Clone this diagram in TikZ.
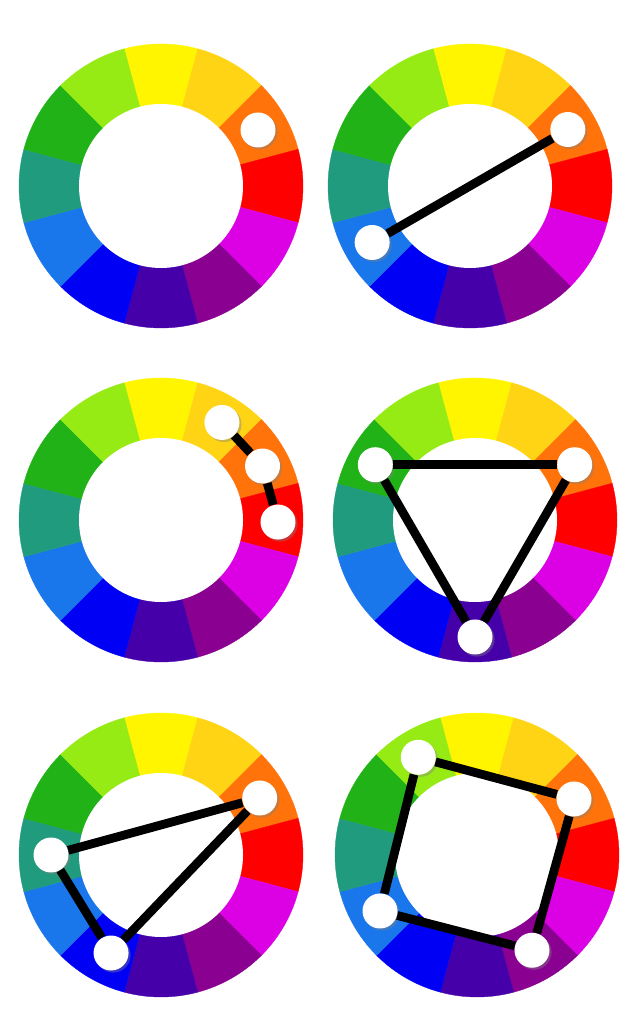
\documentclass[tikz,border=0pt]{standalone}
\usepackage{tikz}
\usetikzlibrary{shadows}

\definecolor{cwYellow}{RGB}{255,245,0}
\definecolor{cwGold}{RGB}{255,212,20}
\definecolor{cwOrange}{RGB}{255,115,10}
\definecolor{cwRed}{RGB}{255,0,0}
\definecolor{cwMagenta}{RGB}{220,0,228}
\definecolor{cwPurple}{RGB}{138,0,145}
\definecolor{cwViolet}{RGB}{70,0,170}
\definecolor{cwBlue}{RGB}{0,0,245}
\definecolor{cwSky}{RGB}{25,118,235}
\definecolor{cwTeal}{RGB}{32,155,125}
\definecolor{cwGreen}{RGB}{32,178,22}
\definecolor{cwLime}{RGB}{150,235,20}

% one ring of twelve hues round a centre
\newcommand{\colorwheel}[1]{%
  \foreach \col [count=\i from 0] in {cwYellow,cwGold,cwOrange,cwRed,cwMagenta,cwPurple,cwViolet,cwBlue,cwSky,cwTeal,cwGreen,cwLime}
    \fill[\col,draw=\col,line width=0.2pt] (#1) -- ++({75-30*\i}:142)
      arc[start angle={75-30*\i},delta angle=30,radius=142] -- cycle;
  \fill[white] (#1) circle[radius=82];
}

\begin{document}
\begin{tikzpicture}[x=0.02cm,y=0.02cm,
    dot/.style={circle,fill=white,inner sep=0pt,minimum size=0.70cm,
      drop shadow={shadow xshift=1.2pt,shadow yshift=-1.2pt,opacity=0.4}},
    link/.style={every edge/.append style={line width=5pt,black}}]

  \useasboundingbox (0,0) rectangle (640,1017);

  \coordinate (c1) at (161,831);
  \coordinate (c2) at (470,831);
  \coordinate (c3) at (161,497);
  \coordinate (c4) at (475,497);
  \coordinate (c5) at (161,162);
  \coordinate (c6) at (477,162);

  \colorwheel{c1}
  \colorwheel{c2}
  \colorwheel{c3}
  \colorwheel{c4}
  \colorwheel{c5}
  \colorwheel{c6}

  % monochrome
  \node[dot] (1) at ([shift={(30:112)}]c1) {};

  % complementary
  \node[dot] (2) at ([shift={(30:113)}]c2) {};
  \node[dot] (3) at ([shift={(210:113)}]c2) {};

  % analogous
  \node[dot] (4) at ([shift={(58:115)}]c3) {};
  \node[dot] (5) at ([shift={(28:115)}]c3) {};
  \node[dot] (6) at ([shift={(-1:117)}]c3) {};

  % triad
  \node[dot] (7) at ([shift={(151:114)}]c4) {};
  \node[dot] (8) at ([shift={(29:114)}]c4) {};
  \node[dot] (9) at ([shift={(-90:117)}]c4) {};

  % split complementary
  \node[dot] (10) at ([shift={(30:114)}]c5) {};
  \node[dot] (11) at ([shift={(180:110)}]c5) {};
  \node[dot] (12) at ([shift={(243:110)}]c5) {};

  % rectangle
  \node[dot] (13) at ([shift={(121:114)}]c6) {};
  \node[dot] (14) at ([shift={(30:112)}]c6) {};
  \node[dot] (15) at ([shift={(-60:110)}]c6) {};
  \node[dot] (16) at ([shift={(210:112)}]c6) {};

  \path[link]
    (2) edge (3)
    (4) edge (5)
    (5) edge (6)
    (7) edge (8)
    (8) edge (9)
    (9) edge (7)
    (10) edge (11)
    (11) edge (12)
    (12) edge (10)
    (13) edge (14)
    (14) edge (15)
    (15) edge (16)
    (16) edge (13);
\end{tikzpicture}
\end{document}
